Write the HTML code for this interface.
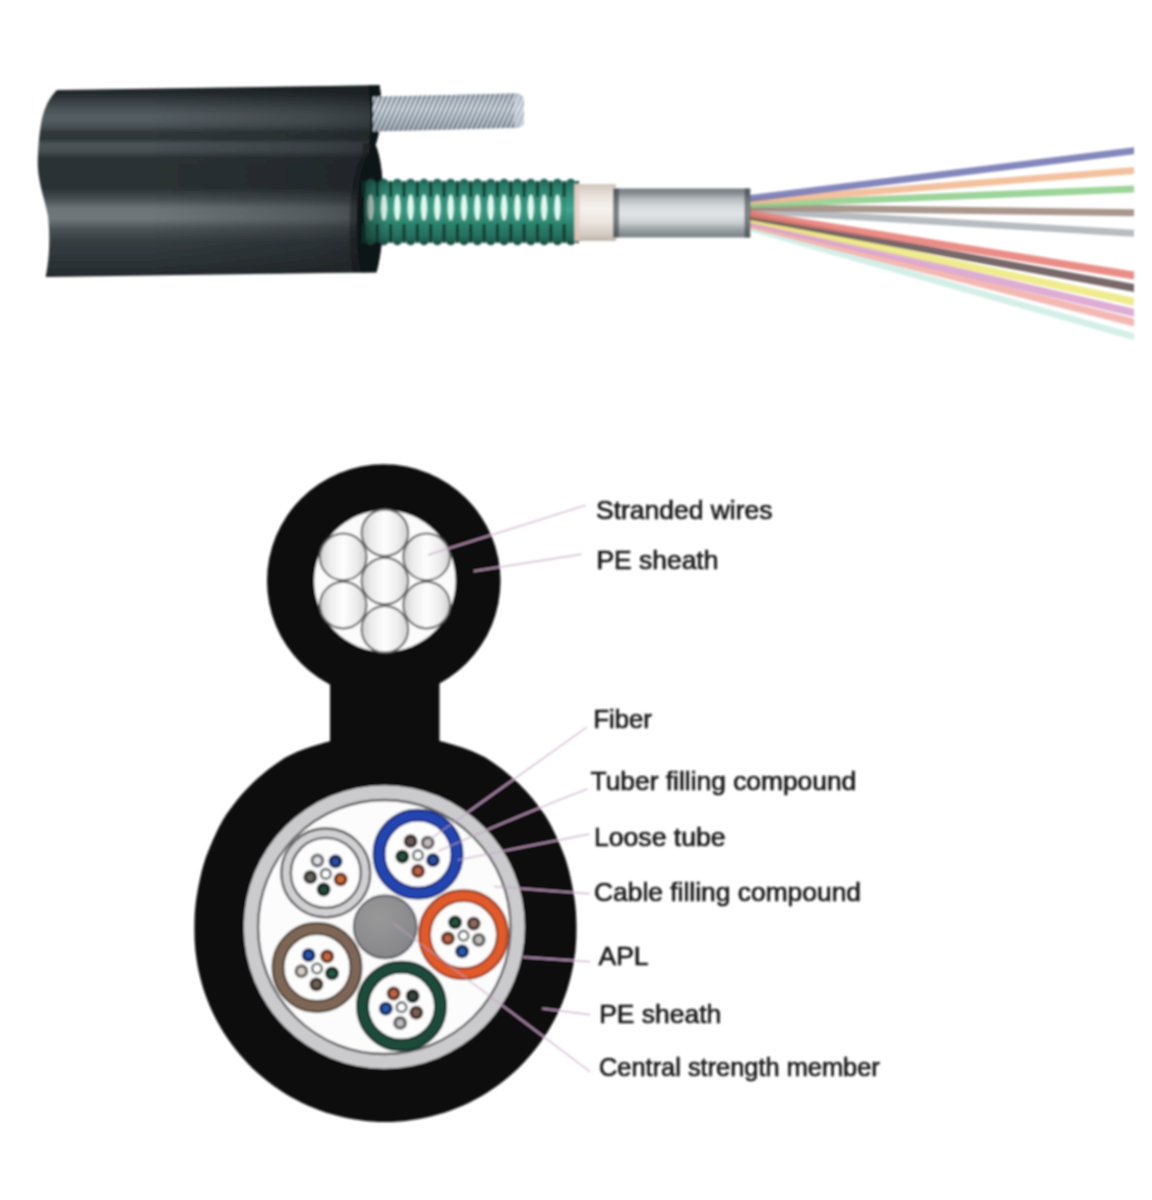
<!DOCTYPE html>
<html lang="en"><head><meta charset="utf-8"><title>Figure-8 aerial fiber optic cable structure</title>
<style>html,body{margin:0;padding:0;background:#fff}body{width:1152px;height:1200px;overflow:hidden}svg{display:block}.lbl{font-family:"Liberation Sans",Arial,Helvetica,sans-serif;font-size:26px;fill:#151515;stroke:#151515;stroke-width:0.6px}</style></head><body>
<svg width="1152" height="1200" viewBox="0 0 1152 1200">
<defs>
<linearGradient id="gSheath" gradientUnits="userSpaceOnUse" x1="0" y1="85" x2="0" y2="276"><stop offset="0.0000" stop-color="#1e2427"/><stop offset="0.0419" stop-color="#242b2e"/><stop offset="0.0785" stop-color="#333b3f"/><stop offset="0.1204" stop-color="#475054"/><stop offset="0.1623" stop-color="#545d61"/><stop offset="0.1937" stop-color="#515a5e"/><stop offset="0.2199" stop-color="#464f53"/><stop offset="0.2461" stop-color="#30383b"/><stop offset="0.2827" stop-color="#2f373a"/><stop offset="0.3089" stop-color="#4b5458"/><stop offset="0.3455" stop-color="#464e52"/><stop offset="0.3822" stop-color="#2b3235"/><stop offset="0.5393" stop-color="#2a3134"/><stop offset="0.6021" stop-color="#4a5256"/><stop offset="0.6440" stop-color="#6c7478"/><stop offset="0.7016" stop-color="#6f777b"/><stop offset="0.7487" stop-color="#4d5559"/><stop offset="0.8220" stop-color="#353c40"/><stop offset="0.9267" stop-color="#2c3336"/><stop offset="1.0000" stop-color="#262b2e"/></linearGradient>
<linearGradient id="gWire" gradientUnits="userSpaceOnUse" x1="0" y1="93" x2="0" y2="131"><stop offset="0.0000" stop-color="#98a4b1"/><stop offset="0.1842" stop-color="#b4c0cc"/><stop offset="0.4211" stop-color="#ccd6e0"/><stop offset="0.7105" stop-color="#aab6c3"/><stop offset="1.0000" stop-color="#8793a1"/></linearGradient>
<linearGradient id="gGreen" gradientUnits="userSpaceOnUse" x1="0" y1="178" x2="0" y2="245"><stop offset="0.0000" stop-color="#1d574a"/><stop offset="0.1194" stop-color="#297b67"/><stop offset="0.2985" stop-color="#35937c"/><stop offset="0.4776" stop-color="#42a58c"/><stop offset="0.6866" stop-color="#2d846d"/><stop offset="0.8657" stop-color="#256f5e"/><stop offset="1.0000" stop-color="#1a4d42"/></linearGradient>
<linearGradient id="gShade" gradientUnits="userSpaceOnUse" x1="150" y1="0" x2="380" y2="0"><stop offset="0" stop-color="#14181a" stop-opacity="0"/><stop offset="0.7" stop-color="#14181a" stop-opacity="0.28"/><stop offset="1" stop-color="#14181a" stop-opacity="0.5"/></linearGradient>
<linearGradient id="gBeige" gradientUnits="userSpaceOnUse" x1="0" y1="184" x2="0" y2="241"><stop offset="0.0000" stop-color="#cfc6bd"/><stop offset="0.1754" stop-color="#e6dfd7"/><stop offset="0.4211" stop-color="#f6f2ed"/><stop offset="0.6667" stop-color="#ebe5de"/><stop offset="0.8772" stop-color="#d4ccc3"/><stop offset="1.0000" stop-color="#bdb5ac"/></linearGradient>
<linearGradient id="gTube" gradientUnits="userSpaceOnUse" x1="0" y1="188" x2="0" y2="238"><stop offset="0.0000" stop-color="#747b7f"/><stop offset="0.1000" stop-color="#858c90"/><stop offset="0.2200" stop-color="#b4b9bc"/><stop offset="0.3600" stop-color="#d6d9db"/><stop offset="0.5200" stop-color="#e2e4e6"/><stop offset="0.6800" stop-color="#cfd2d5"/><stop offset="0.8000" stop-color="#a4aaae"/><stop offset="0.9000" stop-color="#8b9296"/><stop offset="1.0000" stop-color="#787f83"/></linearGradient>
<linearGradient id="gShade2" gradientUnits="userSpaceOnUse" x1="364" y1="0" x2="388" y2="0"><stop offset="0" stop-color="#0c1412" stop-opacity="0.5"/><stop offset="0.5" stop-color="#0c1412" stop-opacity="0.2"/><stop offset="1" stop-color="#0c1412" stop-opacity="0"/></linearGradient>
<linearGradient id="gStrand" x1="0" y1="0" x2="1" y2="0"><stop offset="0" stop-color="#cfcfcf"/><stop offset="0.2" stop-color="#ebebeb"/><stop offset="0.5" stop-color="#fefefe"/><stop offset="0.8" stop-color="#ebebeb"/><stop offset="1" stop-color="#cfcfcf"/></linearGradient>
<pattern id="pHatch" width="4.4" height="6" patternUnits="userSpaceOnUse" patternTransform="rotate(24)"><rect width="1.8" height="6" fill="#566270" opacity="0.75"/><rect x="1.9" width="1.4" height="6" fill="#ffffff" opacity="0.45"/></pattern>
<radialGradient id="gCSM" cx="0.4" cy="0.35" r="0.75"><stop offset="0" stop-color="#989899"/><stop offset="0.6" stop-color="#8d8d8f"/><stop offset="1" stop-color="#838386"/></radialGradient>
<filter id="fBlur" x="-5%" y="-5%" width="110%" height="110%"><feGaussianBlur stdDeviation="1.1"/></filter>
<filter id="fBlurS" x="-5%" y="-5%" width="110%" height="110%"><feGaussianBlur stdDeviation="0.8"/></filter>
</defs>
<rect width="1152" height="1200" fill="#ffffff"/>
<g filter="url(#fBlur)">
<path d="M746 223.6 L1134 333.2 L1134 340.2 L746 230.4 Z" fill="#cdece4" opacity="0.86"/>
<path d="M746 220.8 L1134 318.5 L1134 326.5 L746 227.6 Z" fill="#f1aca5" opacity="0.86"/>
<path d="M746 218.0 L1134 308.7 L1134 316.7 L746 224.8 Z" fill="#d99fcc" opacity="0.86"/>
<path d="M746 206.8 L1134 229.8 L1134 236.8 L746 213.6 Z" fill="#abb1b6" opacity="0.86"/>
<path d="M746 204.0 L1134 209.2 L1134 216.2 L746 210.8 Z" fill="#9b8579" opacity="0.86"/>
<path d="M746 215.2 L1134 297.7 L1134 305.7 L746 222.0 Z" fill="#ede97b" opacity="0.86"/>
<path d="M746 212.4 L1134 284.0 L1134 292.0 L746 219.2 Z" fill="#624e50" opacity="0.86"/>
<path d="M746 209.6 L1134 271.5 L1134 279.5 L746 216.4 Z" fill="#e77a73" opacity="0.86"/>
<path d="M746 201.2 L1134 185.5 L1134 192.5 L746 208.0 Z" fill="#8ccd88" opacity="0.86"/>
<path d="M746 198.4 L1134 167.0 L1134 174.0 L746 205.2 Z" fill="#f1b78e" opacity="0.86"/>
<path d="M746 195.6 L1134 147.3 L1134 154.3 L746 202.4 Z" fill="#7073b0" opacity="0.86"/>
<path d="M57 90 L379.5 85.3 C382 100 382 128 375.5 145 C385 165 387 235 376.5 272.3 L45.6 277 C50 256 50 236 48 216 C44 196 37 180 37.8 159 C38.5 140 40 130 41.7 120 C45 105 50.5 96.5 57 90 Z" fill="url(#gSheath)"/>
<path d="M57 90 L379.5 85.3 C382 100 382 128 375.5 145 C385 165 387 235 376.5 272.3 L45.6 277 C50 256 50 236 48 216 C44 196 37 180 37.8 159 C38.5 140 40 130 41.7 120 C45 105 50.5 96.5 57 90 Z" fill="url(#gShade)"/>
<path d="M368 85.5 L379.5 85.3 C382 100 382 128 375.5 145 C385 165 387 235 376.5 272.3 L361 272.5 C355 250 354 185 365 160 C369 152 371 148 369 143 C372 125 371 100 368 85.5 Z" fill="#0f1214"/>
<path d="M361 272.5 C355 250 354 185 365 160 C369 152 371 148 369 143 L362 143 C364 150 362 156 358 163 C348 188 348 250 353 272.6 Z" fill="#0f1214" opacity="0.4"/>
<path d="M373 96.8 L515 93.4 Q524 93.4 524 101 L524 120.5 Q524 127.6 515 127.8 L373 131.6 Z" fill="url(#gWire)"/>
<path d="M373 96.8 L515 93.4 Q524 93.4 524 101 L524 120.5 Q524 127.6 515 127.8 L373 131.6 Z" fill="url(#pHatch)"/>
<rect x="514" y="94" width="10" height="34" rx="5" fill="#dbe3ea" opacity="0.55"/>
<rect x="368" y="183" width="206" height="58" fill="#287d69"/>
<rect x="364.53" y="178.8" width="12.15" height="66.4" rx="5.5" ry="9" fill="url(#gGreen)"/>
<rect x="377.88" y="178.8" width="12.15" height="66.4" rx="5.5" ry="9" fill="url(#gGreen)"/>
<rect x="391.23" y="178.8" width="12.15" height="66.4" rx="5.5" ry="9" fill="url(#gGreen)"/>
<rect x="404.58" y="178.8" width="12.15" height="66.4" rx="5.5" ry="9" fill="url(#gGreen)"/>
<rect x="417.93" y="178.8" width="12.15" height="66.4" rx="5.5" ry="9" fill="url(#gGreen)"/>
<rect x="431.28" y="178.8" width="12.15" height="66.4" rx="5.5" ry="9" fill="url(#gGreen)"/>
<rect x="444.63" y="178.8" width="12.15" height="66.4" rx="5.5" ry="9" fill="url(#gGreen)"/>
<rect x="457.98" y="178.8" width="12.15" height="66.4" rx="5.5" ry="9" fill="url(#gGreen)"/>
<rect x="471.33" y="178.8" width="12.15" height="66.4" rx="5.5" ry="9" fill="url(#gGreen)"/>
<rect x="484.68" y="178.8" width="12.15" height="66.4" rx="5.5" ry="9" fill="url(#gGreen)"/>
<rect x="498.03" y="178.8" width="12.15" height="66.4" rx="5.5" ry="9" fill="url(#gGreen)"/>
<rect x="511.38" y="178.8" width="12.15" height="66.4" rx="5.5" ry="9" fill="url(#gGreen)"/>
<rect x="524.73" y="178.8" width="12.15" height="66.4" rx="5.5" ry="9" fill="url(#gGreen)"/>
<rect x="538.08" y="178.8" width="12.15" height="66.4" rx="5.5" ry="9" fill="url(#gGreen)"/>
<rect x="551.43" y="178.8" width="12.15" height="66.4" rx="5.5" ry="9" fill="url(#gGreen)"/>
<rect x="564.78" y="178.8" width="12.15" height="66.4" rx="5.5" ry="9" fill="url(#gGreen)"/>
<rect x="362.32" y="181" width="3.2" height="16" fill="#113a2e" opacity="0.9"/>
<rect x="362.32" y="224" width="3.2" height="19" fill="#113a2e" opacity="0.9"/>
<rect x="375.68" y="181" width="3.2" height="16" fill="#113a2e" opacity="0.9"/>
<rect x="375.68" y="224" width="3.2" height="19" fill="#113a2e" opacity="0.9"/>
<rect x="389.02" y="181" width="3.2" height="16" fill="#113a2e" opacity="0.9"/>
<rect x="389.02" y="224" width="3.2" height="19" fill="#113a2e" opacity="0.9"/>
<rect x="402.38" y="181" width="3.2" height="16" fill="#113a2e" opacity="0.9"/>
<rect x="402.38" y="224" width="3.2" height="19" fill="#113a2e" opacity="0.9"/>
<rect x="415.73" y="181" width="3.2" height="16" fill="#113a2e" opacity="0.9"/>
<rect x="415.73" y="224" width="3.2" height="19" fill="#113a2e" opacity="0.9"/>
<rect x="429.07" y="181" width="3.2" height="16" fill="#113a2e" opacity="0.9"/>
<rect x="429.07" y="224" width="3.2" height="19" fill="#113a2e" opacity="0.9"/>
<rect x="442.43" y="181" width="3.2" height="16" fill="#113a2e" opacity="0.9"/>
<rect x="442.43" y="224" width="3.2" height="19" fill="#113a2e" opacity="0.9"/>
<rect x="455.77" y="181" width="3.2" height="16" fill="#113a2e" opacity="0.9"/>
<rect x="455.77" y="224" width="3.2" height="19" fill="#113a2e" opacity="0.9"/>
<rect x="469.12" y="181" width="3.2" height="16" fill="#113a2e" opacity="0.9"/>
<rect x="469.12" y="224" width="3.2" height="19" fill="#113a2e" opacity="0.9"/>
<rect x="482.48" y="181" width="3.2" height="16" fill="#113a2e" opacity="0.9"/>
<rect x="482.48" y="224" width="3.2" height="19" fill="#113a2e" opacity="0.9"/>
<rect x="495.82" y="181" width="3.2" height="16" fill="#113a2e" opacity="0.9"/>
<rect x="495.82" y="224" width="3.2" height="19" fill="#113a2e" opacity="0.9"/>
<rect x="509.17" y="181" width="3.2" height="16" fill="#113a2e" opacity="0.9"/>
<rect x="509.17" y="224" width="3.2" height="19" fill="#113a2e" opacity="0.9"/>
<rect x="522.52" y="181" width="3.2" height="16" fill="#113a2e" opacity="0.9"/>
<rect x="522.52" y="224" width="3.2" height="19" fill="#113a2e" opacity="0.9"/>
<rect x="535.88" y="181" width="3.2" height="16" fill="#113a2e" opacity="0.9"/>
<rect x="535.88" y="224" width="3.2" height="19" fill="#113a2e" opacity="0.9"/>
<rect x="549.23" y="181" width="3.2" height="16" fill="#113a2e" opacity="0.9"/>
<rect x="549.23" y="224" width="3.2" height="19" fill="#113a2e" opacity="0.9"/>
<rect x="562.57" y="181" width="3.2" height="16" fill="#113a2e" opacity="0.9"/>
<rect x="562.57" y="224" width="3.2" height="19" fill="#113a2e" opacity="0.9"/>
<rect x="575.92" y="181" width="3.2" height="16" fill="#113a2e" opacity="0.9"/>
<rect x="575.92" y="224" width="3.2" height="19" fill="#113a2e" opacity="0.9"/>
<ellipse cx="370.60" cy="207.5" rx="2.9" ry="13" fill="#e2fbf2"/>
<ellipse cx="383.95" cy="207.5" rx="2.9" ry="13" fill="#e2fbf2"/>
<ellipse cx="397.30" cy="207.5" rx="2.9" ry="13" fill="#e2fbf2"/>
<ellipse cx="410.65" cy="207.5" rx="2.9" ry="13" fill="#e2fbf2"/>
<ellipse cx="424.00" cy="207.5" rx="2.9" ry="13" fill="#e2fbf2"/>
<ellipse cx="437.35" cy="207.5" rx="2.9" ry="13" fill="#e2fbf2"/>
<ellipse cx="450.70" cy="207.5" rx="2.9" ry="13" fill="#e2fbf2"/>
<ellipse cx="464.05" cy="207.5" rx="2.9" ry="13" fill="#e2fbf2"/>
<ellipse cx="477.40" cy="207.5" rx="2.9" ry="13" fill="#e2fbf2"/>
<ellipse cx="490.75" cy="207.5" rx="2.9" ry="13" fill="#e2fbf2"/>
<ellipse cx="504.10" cy="207.5" rx="2.9" ry="13" fill="#e2fbf2"/>
<ellipse cx="517.45" cy="207.5" rx="2.9" ry="13" fill="#e2fbf2"/>
<ellipse cx="530.80" cy="207.5" rx="2.9" ry="13" fill="#e2fbf2"/>
<ellipse cx="544.15" cy="207.5" rx="2.9" ry="13" fill="#e2fbf2"/>
<ellipse cx="557.50" cy="207.5" rx="2.9" ry="13" fill="#e2fbf2"/>
<rect x="364" y="178" width="24" height="68" fill="url(#gShade2)"/>
<rect x="574.5" y="184" width="41.5" height="57" fill="url(#gBeige)"/>
<rect x="574.5" y="184" width="5" height="57" fill="#e3bdb6" opacity="0.55"/>
<rect x="613" y="188.5" width="137" height="49" fill="url(#gTube)"/>
<rect x="613" y="188.5" width="6" height="49" fill="#3b4347" opacity="0.6"/>
<rect x="744.5" y="188.5" width="6" height="49" fill="#3b4347" opacity="0.6"/>
</g>
<g filter="url(#fBlurS)">
<path d="M576.4 931.0 L576.4 924.3 L576.2 917.7 L575.9 911.0 L575.2 904.3 L574.4 897.7 L573.2 891.1 L572.0 884.5 L570.6 877.9 L569.1 871.3 L567.3 864.8 L565.3 858.3 L562.9 852.0 L560.3 845.7 L557.7 839.4 L554.8 833.2 L551.8 827.0 L548.5 821.0 L544.9 815.1 L540.9 809.5 L536.8 804.0 L532.5 798.6 L528.0 793.3 L523.3 788.2 L518.4 783.3 L513.3 778.6 L508.0 774.0 L502.6 769.6 L497.1 765.4 L491.4 761.4 L485.5 757.6 L479.3 754.5 L472.9 751.6 L466.4 749.1 L459.8 746.8 L453.2 744.7 L446.5 742.8 L439.9 741.1 L433.2 739.4 L426.4 738.1 L419.6 737.1 L412.8 736.4 L405.9 735.8 L399.1 735.6 L392.2 735.4 L385.4 735.5 L378.6 735.4 L371.7 735.6 L364.9 735.8 L358.0 736.4 L351.2 737.1 L344.4 738.1 L337.6 739.4 L330.9 741.1 L324.3 742.8 L317.6 744.7 L311.0 746.8 L304.4 749.1 L297.9 751.6 L291.5 754.5 L285.3 757.6 L279.4 761.4 L273.7 765.4 L268.2 769.6 L262.8 774.0 L257.5 778.6 L252.4 783.3 L247.5 788.2 L242.8 793.3 L238.3 798.6 L234.0 804.0 L229.9 809.5 L225.9 815.1 L222.3 821.0 L219.0 827.0 L216.0 833.2 L213.1 839.4 L210.5 845.7 L207.9 852.0 L205.5 858.3 L203.5 864.8 L201.7 871.3 L200.2 877.9 L198.8 884.5 L197.6 891.1 L196.4 897.7 L195.6 904.3 L194.9 911.0 L194.6 917.7 L194.4 924.3 L194.4 931.0 L194.5 937.7 L194.9 944.3 L195.4 951.0 L196.3 957.6 L197.3 964.2 L198.6 970.7 L200.1 977.2 L201.8 983.6 L203.7 990.0 L205.9 996.3 L208.3 1002.5 L210.9 1008.7 L213.7 1014.7 L216.8 1020.7 L220.0 1026.5 L223.4 1032.2 L227.1 1037.8 L230.9 1043.3 L234.9 1048.6 L239.1 1053.8 L243.5 1058.8 L248.0 1063.7 L252.7 1068.4 L257.6 1072.9 L262.6 1077.3 L267.8 1081.5 L273.1 1085.5 L278.6 1089.3 L284.2 1093.0 L289.9 1096.4 L295.7 1099.6 L301.7 1102.7 L307.7 1105.5 L313.9 1108.1 L320.1 1110.5 L326.4 1112.7 L332.8 1114.6 L339.2 1116.3 L345.7 1117.8 L352.2 1119.1 L358.8 1120.1 L365.4 1121.0 L372.1 1121.5 L378.7 1121.9 L385.4 1122.0 L392.1 1121.9 L398.7 1121.5 L405.4 1121.0 L412.0 1120.1 L418.6 1119.1 L425.1 1117.8 L431.6 1116.3 L438.0 1114.6 L444.4 1112.7 L450.7 1110.5 L456.9 1108.1 L463.1 1105.5 L469.1 1102.7 L475.1 1099.6 L480.9 1096.4 L486.6 1093.0 L492.2 1089.3 L497.7 1085.5 L503.0 1081.5 L508.2 1077.3 L513.2 1072.9 L518.1 1068.4 L522.8 1063.7 L527.3 1058.8 L531.7 1053.8 L535.9 1048.6 L539.9 1043.3 L543.7 1037.8 L547.4 1032.2 L550.8 1026.5 L554.0 1020.7 L557.1 1014.7 L559.9 1008.7 L562.5 1002.5 L564.9 996.3 L567.1 990.0 L569.0 983.6 L570.7 977.2 L572.2 970.7 L573.5 964.2 L574.5 957.6 L575.4 951.0 L575.9 944.3 L576.3 937.7 Z" fill="#0d0e10"/>
<rect x="330" y="640" width="109.5" height="120" fill="#0d0e10"/>
<circle cx="383.75" cy="581" r="116.75" fill="#0d0e10"/>
<circle cx="384.9" cy="581" r="70.8" fill="#fbfbfb"/>
<circle cx="384.9" cy="581.0" r="23.3" fill="url(#gStrand)" stroke="#606060" stroke-width="2"/>
<circle cx="384.9" cy="532.8" r="23.3" fill="url(#gStrand)" stroke="#606060" stroke-width="2"/>
<circle cx="343.2" cy="556.9" r="23.3" fill="url(#gStrand)" stroke="#606060" stroke-width="2"/>
<circle cx="343.2" cy="605.1" r="23.3" fill="url(#gStrand)" stroke="#606060" stroke-width="2"/>
<circle cx="384.9" cy="629.2" r="23.3" fill="url(#gStrand)" stroke="#606060" stroke-width="2"/>
<circle cx="426.6" cy="605.1" r="23.3" fill="url(#gStrand)" stroke="#606060" stroke-width="2"/>
<circle cx="426.6" cy="556.9" r="23.3" fill="url(#gStrand)" stroke="#606060" stroke-width="2"/>
<ellipse cx="384.3" cy="927.0" rx="140.5" ry="141.7" fill="#cbcbce"/>
<ellipse cx="384.3" cy="927.0" rx="126.2" ry="127" fill="#fcfcfc" stroke="#5a5a5c" stroke-width="2.3"/>
<circle cx="418" cy="854.2" r="44.4" fill="#2145b0" stroke="#182a76" stroke-width="2.0"/>
<circle cx="418" cy="854.2" r="33.6" fill="#fdfdfd" stroke="#182a76" stroke-width="2.0"/>
<circle cx="418" cy="855.2" r="4.8" fill="#ffffff" stroke="#6a6e70" stroke-width="2.6"/>
<circle cx="410.6" cy="841.2" r="5.2" fill="#6b5a58" stroke="#352d2c" stroke-width="3.4"/>
<circle cx="427.7" cy="842.7" r="5.2" fill="#c2bcbc" stroke="#615e5e" stroke-width="3.4"/>
<circle cx="433.0" cy="860.1" r="5.2" fill="#2c4ea6" stroke="#162753" stroke-width="3.4"/>
<circle cx="418.0" cy="871.0" r="5.2" fill="#bd6348" stroke="#5e3124" stroke-width="3.4"/>
<circle cx="402.3" cy="856.6" r="5.2" fill="#27503e" stroke="#13281f" stroke-width="3.4"/>
<circle cx="463.5" cy="934.7" r="44.4" fill="#e05a2c" stroke="#94381a" stroke-width="2.0"/>
<circle cx="463.5" cy="934.7" r="33.6" fill="#fdfdfd" stroke="#94381a" stroke-width="2.0"/>
<circle cx="463.5" cy="935.7" r="4.8" fill="#ffffff" stroke="#6a6e70" stroke-width="2.6"/>
<circle cx="455.1" cy="922.3" r="5.2" fill="#27503e" stroke="#13281f" stroke-width="3.4"/>
<circle cx="473.7" cy="923.6" r="5.2" fill="#8d6a5d" stroke="#46352e" stroke-width="3.4"/>
<circle cx="478.8" cy="939.8" r="5.2" fill="#c0bcba" stroke="#605e5d" stroke-width="3.4"/>
<circle cx="462.1" cy="951.4" r="5.2" fill="#2858ad" stroke="#142c56" stroke-width="3.4"/>
<circle cx="447.9" cy="938.4" r="5.2" fill="#bb6248" stroke="#5d3124" stroke-width="3.4"/>
<circle cx="401.5" cy="1006.2" r="44.4" fill="#1f4b3b" stroke="#112b22" stroke-width="2.0"/>
<circle cx="401.5" cy="1006.2" r="33.6" fill="#fdfdfd" stroke="#112b22" stroke-width="2.0"/>
<circle cx="401.5" cy="1007.2" r="4.8" fill="#ffffff" stroke="#6a6e70" stroke-width="2.6"/>
<circle cx="393.6" cy="993.5" r="5.2" fill="#bd6545" stroke="#5e3222" stroke-width="3.4"/>
<circle cx="412.7" cy="996.0" r="5.2" fill="#34463f" stroke="#1a231f" stroke-width="3.4"/>
<circle cx="416.3" cy="1012.6" r="5.2" fill="#7c6056" stroke="#3e302b" stroke-width="3.4"/>
<circle cx="400.1" cy="1022.9" r="5.2" fill="#bdbdbd" stroke="#5e5e5e" stroke-width="3.4"/>
<circle cx="385.8" cy="1008.6" r="5.2" fill="#2858b0" stroke="#142c58" stroke-width="3.4"/>
<circle cx="317" cy="967.5" r="44.4" fill="#7d6655" stroke="#4c3d32" stroke-width="2.0"/>
<circle cx="317" cy="967.5" r="33.6" fill="#fdfdfd" stroke="#4c3d32" stroke-width="2.0"/>
<circle cx="317" cy="968.5" r="4.8" fill="#ffffff" stroke="#6a6e70" stroke-width="2.6"/>
<circle cx="308.6" cy="955.1" r="5.2" fill="#2a53b2" stroke="#152959" stroke-width="3.4"/>
<circle cx="327.2" cy="956.4" r="5.2" fill="#c66842" stroke="#633421" stroke-width="3.4"/>
<circle cx="332.0" cy="973.4" r="5.2" fill="#265846" stroke="#132c23" stroke-width="3.4"/>
<circle cx="316.4" cy="984.3" r="5.2" fill="#6f6057" stroke="#37302b" stroke-width="3.4"/>
<circle cx="301.4" cy="971.2" r="5.2" fill="#d6cec7" stroke="#6b6763" stroke-width="3.4"/>
<circle cx="325.8" cy="872.9" r="44.4" fill="#d0d0d2" stroke="#58585a" stroke-width="2.3"/>
<circle cx="325.8" cy="872.9" r="35.0" fill="#fdfdfd" stroke="#58585a" stroke-width="2.3"/>
<circle cx="325.8" cy="873.9" r="4.8" fill="#ffffff" stroke="#6a6e70" stroke-width="2.6"/>
<circle cx="317.4" cy="860.5" r="5.2" fill="#dfe2ea" stroke="#6f7175" stroke-width="3.4"/>
<circle cx="335.5" cy="861.4" r="5.2" fill="#2c4ea6" stroke="#162753" stroke-width="3.4"/>
<circle cx="340.6" cy="879.3" r="5.2" fill="#d06c38" stroke="#68361c" stroke-width="3.4"/>
<circle cx="323.6" cy="889.5" r="5.2" fill="#234a3d" stroke="#11251e" stroke-width="3.4"/>
<circle cx="310.3" cy="877.2" r="5.2" fill="#66635e" stroke="#33312f" stroke-width="3.4"/>
<circle cx="385.2" cy="926.8" r="31.4" fill="url(#gCSM)" stroke="#565b63" stroke-width="2"/>
<mask id="mBlack" maskUnits="userSpaceOnUse" x="0" y="0" width="1152" height="1200"><rect width="1152" height="1200" fill="#000"/>
<path d="M576.4 931.0 L576.4 924.3 L576.2 917.7 L575.9 911.0 L575.2 904.3 L574.4 897.7 L573.2 891.1 L572.0 884.5 L570.6 877.9 L569.1 871.3 L567.3 864.8 L565.3 858.3 L562.9 852.0 L560.3 845.7 L557.7 839.4 L554.8 833.2 L551.8 827.0 L548.5 821.0 L544.9 815.1 L540.9 809.5 L536.8 804.0 L532.5 798.6 L528.0 793.3 L523.3 788.2 L518.4 783.3 L513.3 778.6 L508.0 774.0 L502.6 769.6 L497.1 765.4 L491.4 761.4 L485.5 757.6 L479.3 754.5 L472.9 751.6 L466.4 749.1 L459.8 746.8 L453.2 744.7 L446.5 742.8 L439.9 741.1 L433.2 739.4 L426.4 738.1 L419.6 737.1 L412.8 736.4 L405.9 735.8 L399.1 735.6 L392.2 735.4 L385.4 735.5 L378.6 735.4 L371.7 735.6 L364.9 735.8 L358.0 736.4 L351.2 737.1 L344.4 738.1 L337.6 739.4 L330.9 741.1 L324.3 742.8 L317.6 744.7 L311.0 746.8 L304.4 749.1 L297.9 751.6 L291.5 754.5 L285.3 757.6 L279.4 761.4 L273.7 765.4 L268.2 769.6 L262.8 774.0 L257.5 778.6 L252.4 783.3 L247.5 788.2 L242.8 793.3 L238.3 798.6 L234.0 804.0 L229.9 809.5 L225.9 815.1 L222.3 821.0 L219.0 827.0 L216.0 833.2 L213.1 839.4 L210.5 845.7 L207.9 852.0 L205.5 858.3 L203.5 864.8 L201.7 871.3 L200.2 877.9 L198.8 884.5 L197.6 891.1 L196.4 897.7 L195.6 904.3 L194.9 911.0 L194.6 917.7 L194.4 924.3 L194.4 931.0 L194.5 937.7 L194.9 944.3 L195.4 951.0 L196.3 957.6 L197.3 964.2 L198.6 970.7 L200.1 977.2 L201.8 983.6 L203.7 990.0 L205.9 996.3 L208.3 1002.5 L210.9 1008.7 L213.7 1014.7 L216.8 1020.7 L220.0 1026.5 L223.4 1032.2 L227.1 1037.8 L230.9 1043.3 L234.9 1048.6 L239.1 1053.8 L243.5 1058.8 L248.0 1063.7 L252.7 1068.4 L257.6 1072.9 L262.6 1077.3 L267.8 1081.5 L273.1 1085.5 L278.6 1089.3 L284.2 1093.0 L289.9 1096.4 L295.7 1099.6 L301.7 1102.7 L307.7 1105.5 L313.9 1108.1 L320.1 1110.5 L326.4 1112.7 L332.8 1114.6 L339.2 1116.3 L345.7 1117.8 L352.2 1119.1 L358.8 1120.1 L365.4 1121.0 L372.1 1121.5 L378.7 1121.9 L385.4 1122.0 L392.1 1121.9 L398.7 1121.5 L405.4 1121.0 L412.0 1120.1 L418.6 1119.1 L425.1 1117.8 L431.6 1116.3 L438.0 1114.6 L444.4 1112.7 L450.7 1110.5 L456.9 1108.1 L463.1 1105.5 L469.1 1102.7 L475.1 1099.6 L480.9 1096.4 L486.6 1093.0 L492.2 1089.3 L497.7 1085.5 L503.0 1081.5 L508.2 1077.3 L513.2 1072.9 L518.1 1068.4 L522.8 1063.7 L527.3 1058.8 L531.7 1053.8 L535.9 1048.6 L539.9 1043.3 L543.7 1037.8 L547.4 1032.2 L550.8 1026.5 L554.0 1020.7 L557.1 1014.7 L559.9 1008.7 L562.5 1002.5 L564.9 996.3 L567.1 990.0 L569.0 983.6 L570.7 977.2 L572.2 970.7 L573.5 964.2 L574.5 957.6 L575.4 951.0 L575.9 944.3 L576.3 937.7 Z" fill="#fff"/><rect x="330" y="640" width="109.5" height="120" fill="#fff"/><circle cx="383.75" cy="581" r="116.75" fill="#fff"/>
<ellipse cx="384.3" cy="927.0" rx="140.5" ry="141.7" fill="#000"/><circle cx="384.9" cy="581" r="70.8" fill="#000"/></mask>
<g fill="none" stroke="#c2a0be" stroke-width="1.4" opacity="0.72">
<path d="M587.4 788.9 Q 520 815 438.7 851"/>
<line x1="427.8" y1="555" x2="585.8" y2="505.2"/>
<line x1="473.8" y1="571.1" x2="581.5" y2="554.3"/>
<line x1="586.7" y1="727.2" x2="429" y2="840"/>
<line x1="589.4" y1="834" x2="457.9" y2="860"/>
<line x1="589.4" y1="893.75" x2="494.3" y2="886.5"/>
<line x1="590.1" y1="961.7" x2="522.8" y2="957.1"/>
<line x1="590.1" y1="1014.7" x2="542.2" y2="1008.5"/>
<line x1="590.1" y1="1071.7" x2="393" y2="923"/>
</g>
<g fill="none" stroke="#b993b5" stroke-width="1.7" opacity="0.95" mask="url(#mBlack)">
<path d="M587.4 788.9 Q 520 815 438.7 851"/>
<line x1="427.8" y1="555" x2="585.8" y2="505.2"/>
<line x1="473.8" y1="571.1" x2="581.5" y2="554.3"/>
<line x1="586.7" y1="727.2" x2="429" y2="840"/>
<line x1="589.4" y1="834" x2="457.9" y2="860"/>
<line x1="589.4" y1="893.75" x2="494.3" y2="886.5"/>
<line x1="590.1" y1="961.7" x2="522.8" y2="957.1"/>
<line x1="590.1" y1="1014.7" x2="542.2" y2="1008.5"/>
<line x1="590.1" y1="1071.7" x2="393" y2="923"/>
</g>
</g>
<g filter="url(#fBlurS)">
<text class="lbl" x="596.0" y="518.6" textLength="176.5" lengthAdjust="spacingAndGlyphs">Stranded wires</text>
<text class="lbl" x="596.4" y="568.9" textLength="122" lengthAdjust="spacingAndGlyphs">PE sheath</text>
<text class="lbl" x="593.4" y="727.5" textLength="58.5" lengthAdjust="spacingAndGlyphs">Fiber</text>
<text class="lbl" x="590.6" y="790.3" textLength="265.6" lengthAdjust="spacingAndGlyphs">Tuber filling compound</text>
<text class="lbl" x="594.0" y="845.8" textLength="131.6" lengthAdjust="spacingAndGlyphs">Loose tube</text>
<text class="lbl" x="594.0" y="900.8" textLength="267" lengthAdjust="spacingAndGlyphs">Cable filling compound</text>
<text class="lbl" x="598.6" y="965.4" textLength="50" lengthAdjust="spacingAndGlyphs">APL</text>
<text class="lbl" x="599.2" y="1023" textLength="122" lengthAdjust="spacingAndGlyphs">PE sheath</text>
<text class="lbl" x="599.0" y="1075.8" textLength="280.8" lengthAdjust="spacingAndGlyphs">Central strength member</text>
</g>
</svg></body></html>
